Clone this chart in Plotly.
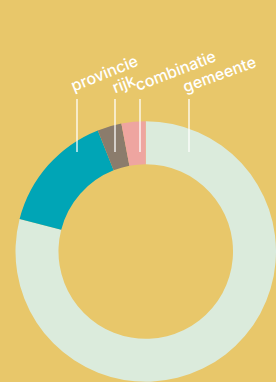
import plotly.graph_objects as go

# Data
categories = ["gemeente", "provincie", "rijk", "combinatie"]
values = [79, 15, 3, 3]
colors = ["#DBEBDC", "#00A5B6", "#8B7C6C", "#EEA5A0"]

# Label placement (pixels in 276x382 canvas)
W, H = 276, 382
label_centers = {"provincie": (104, 73), "rijk": (123, 84), "combinatie": (176, 70), "gemeente": (219, 74)}
label_angles = {"provincie": -22, "rijk": -21, "combinatie": -21, "gemeente": -20}
line_x = {"provincie": 77, "rijk": 115, "combinatie": 140, "gemeente": 189}
line_top, line_bottom = 99, 152

fig = go.Figure(go.Pie(
    labels=categories,
    values=values,
    marker=dict(colors=colors, line=dict(width=0)),
    hole=0.67,
    sort=False,
    direction="clockwise",
    rotation=0,
    textinfo="none",
    hoverinfo="label+percent",
    showlegend=False,
    domain=dict(x=[15.5 / W, 1.0], y=[0.0, (H - 121) / H]),
))

annotations = []
shapes = []
for cat in categories:
    cx, cy = label_centers[cat]
    annotations.append(dict(
        text=cat, x=cx / W, y=1 - cy / H, xref="paper", yref="paper",
        xanchor="center", yanchor="middle", showarrow=False, textangle=label_angles[cat],
        font=dict(family="Inter", size=16, color="white", weight=500),
    ))
    lx = line_x[cat]
    shapes.append(dict(
        type="line", xref="paper", yref="paper",
        x0=lx / W, x1=lx / W, y0=1 - line_top / H, y1=1 - line_bottom / H,
        line=dict(color="rgba(255,255,255,0.8)", width=1.6),
    ))

fig.update_layout(
    width=W, height=H,
    margin=dict(l=0, r=0, t=0, b=0),
    paper_bgcolor="#E8C76A",
    plot_bgcolor="#E8C76A",
    annotations=annotations,
    shapes=shapes,
)

fig.write_html(
    "out.html",
    config={"displayModeBar": False},
    post_script="document.body.style.margin='0';document.body.style.overflow='hidden';",
)
